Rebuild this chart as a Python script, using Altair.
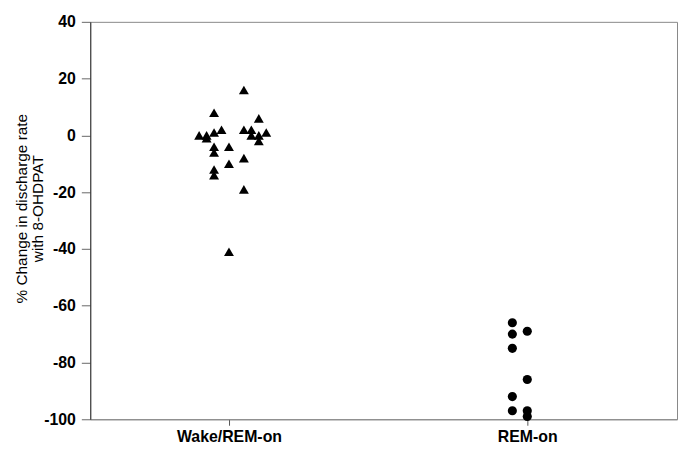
import altair as alt
import pandas as pd

# ---- data ----
groups = ["Wake/REM-on", "REM-on"]
group_pos = [1, 2]

wake_slot = [2, -2, 4, -4, -3, -3, -2, -1, 2, 3, 3, 4, 5, 4, -2, -2, 0, 2, 0, -2, -2, 2, 0]
wake_val = [16, 8, 6, 0, 0, -1, 1, 2, 2, 2, 0, 0, 1, -2, -4, -6, -4, -8, -10, -12, -14, -19, -41]

rem_slot = [-2, -2, 0, -2, 0, -2, -2, 0, 0]
rem_val = [-66, -70, -69, -75, -86, -92, -97, -97, -99]

y_ticks = [-100, -80, -60, -40, -20, 0, 20, 40]

slot_step = 0.025

wake = pd.DataFrame({"group": groups[0], "slot": wake_slot, "value": wake_val})
wake["xpos"] = group_pos[0] + wake["slot"] * slot_step
rem = pd.DataFrame({"group": groups[1], "slot": rem_slot, "value": rem_val})
rem["xpos"] = group_pos[1] + rem["slot"] * slot_step

FONT = "Liberation Sans"

x_enc = alt.X(
    "xpos:Q",
    scale=alt.Scale(domain=[0.535, 2.502], nice=False, zero=False),
    axis=alt.Axis(
        values=group_pos,
        labelExpr="datum.value == 1 ? 'Wake/REM-on' : 'REM-on'",
        title=None,
        grid=False,
        tickSize=6,
        tickColor="#555555",
        domainColor="#888888",
        labelFont=FONT,
        labelFontSize=16,
        labelFontWeight="bold",
        labelColor="black",
        labelPadding=3,
    ),
)
y_enc = alt.Y(
    "value:Q",
    scale=alt.Scale(domain=[-100, 40], nice=False, zero=False),
    axis=alt.Axis(
        values=y_ticks,
        labelExpr="'' + datum.value",
        title=["% Change in discharge rate", "with 8-OHDPAT"],
        titleFont=FONT,
        titleFontSize=15.5,
        titleFontWeight="normal",
        titleColor="black",
        titleAngle=-90,
        titleAlign="center",
        titleBaseline="top",
        titleX=-76,
        titleY=188,
        titleLineHeight=15.5,
        grid=False,
        tickSize=9,
        tickColor="#666666",
        domainColor="#333333",
        labelFont=FONT,
        labelFontSize=16,
        labelFontWeight="bold",
        labelColor="black",
        labelPadding=6,
    ),
)

tri = alt.Chart(wake).mark_point(
    shape="triangle-up", filled=True, color="black", size=100, opacity=1
).encode(x=x_enc, y=y_enc)

circ = alt.Chart(rem).mark_point(
    shape="circle", filled=True, color="black", size=85, opacity=1
).encode(x="xpos:Q", y="value:Q")

chart = (
    alt.layer(tri, circ)
    .properties(
        width=592,
        height=401,
        autosize=alt.AutoSizeParams(type="none"),
        padding={"left": 83, "top": 12, "right": 2, "bottom": 26},
        background="white",
    )
    .configure_view(stroke="#888888", strokeWidth=1)
)

chart.save("out.html", embed_options={"renderer": "svg", "actions": False})
